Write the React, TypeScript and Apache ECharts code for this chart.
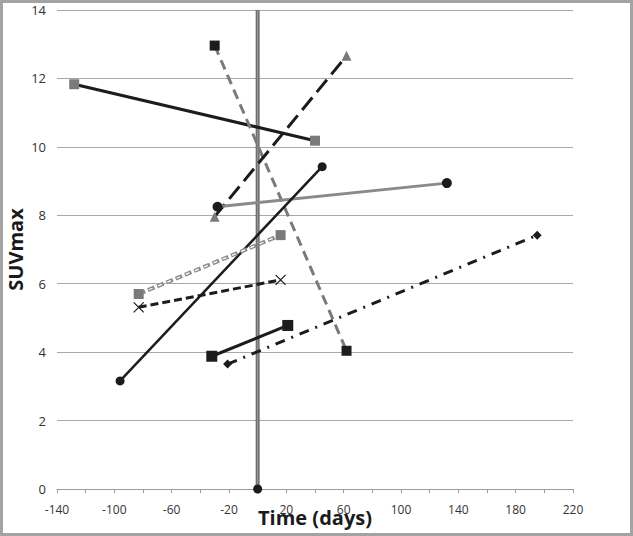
import React, { useEffect, useRef } from "react";
import * as echarts from "echarts";

// Each subject: [days, SUVmax] pairs (before / after)
const s1X = [-128, 40];
const s1Y = [11.83, 10.18];
const s2X = [-30, 62];
const s2Y = [12.96, 4.04];
const s3X = [-30, 62];
const s3Y = [7.96, 12.66];
const s4X = [-28, 132];
const s4Y = [8.25, 8.94];
const s5X = [-96, 45];
const s5Y = [3.16, 9.42];
const s6X = [-83, 16];
const s6Y = [5.7, 7.42];
const s7X = [-83, 16];
const s7Y = [5.31, 6.11];
const s8X = [-32, 21];
const s8Y = [3.88, 4.78];
const s9X = [-21, 195];
const s9Y = [3.65, 7.42];
const refX = [0, 0];
const refY = [0, 14];

const BLACK = "#1c1c1c";
const GRAY = "#7a7a7a";

const pts = (xs: number[], ys: number[]) => xs.map((x, i) => [x, ys[i]]);

const X_SYMBOL = "path://M0,0L10,10M10,0L0,10";

export default function App() {
  const ref = useRef<HTMLDivElement>(null);
  useEffect(() => {
    document.body.style.margin = "0";
    const chart = echarts.init(ref.current!, undefined, { renderer: "svg" });
    const fontFamily = "'Liberation Sans Narrow', 'Open Sans', sans-serif";
    const line = (
      name: string,
      xs: number[],
      ys: number[],
      lineStyle: any,
      symbol: string,
      symbolSize: number,
      itemStyle: any,
      z = 2
    ) => ({
      name,
      type: "line",
      data: pts(xs, ys),
      lineStyle,
      symbol,
      symbolSize,
      itemStyle,
      z,
      silent: true,
    });
    chart.setOption({
      animation: false,
      backgroundColor: "#ffffff",
      grid: { left: 57, top: 10, right: 60, bottom: 47, containLabel: false, outerBoundsMode: "none" },
      graphic: [
        {
          type: "rect",
          shape: { x: 1.5, y: 1.5, width: 630, height: 533 },
          style: { fill: "none", stroke: "#a3a3a3", lineWidth: 3 },
          z: 100,
        },
      ],
      xAxis: {
        type: "value",
        min: -140,
        max: 220,
        interval: 20,
        name: "Time (days)",
        nameLocation: "middle",
        nameGap: 18,
        nameMoveOverlap: false,
        nameTextStyle: { fontFamily: "'Open Sans', sans-serif", fontWeight: "bold", fontSize: 20, color: "#1a1a1a" },
        axisLine: { show: true, onZero: false, lineStyle: { color: "#9a9a9a", width: 1 } },
        axisTick: { show: true, inside: false, length: 4, lineStyle: { color: "#9a9a9a" } },
        axisLabel: {
          fontFamily,
          fontSize: 12,
          color: "#333",
          margin: 14,
          formatter: (v: number) => (((v + 140) % 40 === 0) ? String(v) : ""),
        },
        splitLine: { show: false },
      },
      yAxis: {
        type: "value",
        min: 0,
        max: 14,
        interval: 2,
        name: "SUVmax",
        nameLocation: "middle",
        nameGap: 32,
        nameMoveOverlap: false,
        nameTextStyle: { fontFamily: "'Open Sans', sans-serif", fontWeight: "bold", fontSize: 20, color: "#1a1a1a" },
        axisLine: { show: true, lineStyle: { color: "#9a9a9a", width: 1 } },
        axisTick: { show: true, length: 4, lineStyle: { color: "#9a9a9a" } },
        axisLabel: { fontFamily, fontSize: 13, color: "#333", margin: 11 },
        splitLine: { show: true, lineStyle: { color: "#a8a8a8", width: 1 } },
      },
      series: [
        // reference vertical line at day 0
        {
          type: "line",
          data: [
            { value: [refX[0], refY[0]], symbol: "circle", symbolSize: 9 },
            { value: [refX[1], refY[1]], symbol: "none" },
          ],
          lineStyle: { color: "#707070", width: 4 },
          itemStyle: { color: BLACK },
          z: 1,
          silent: true,
        },
        {
          type: "line",
          data: pts(refX, refY),
          symbol: "none",
          lineStyle: { color: "#9a9a9a", width: 1 },
          z: 1,
          silent: true,
        },
        line("s1", s1X, s1Y, { color: BLACK, width: 3 }, "rect", 10, { color: GRAY }),
        line("s2", s2X, s2Y, { color: GRAY, width: 3, type: [10, 6] }, "rect", 10, { color: BLACK }),
        line("s3", s3X, s3Y, { color: BLACK, width: 3, type: [16, 7] }, "triangle", 10, { color: GRAY }),
        line("s4", s4X, s4Y, { color: "#8a8a8a", width: 3 }, "circle", 10, { color: BLACK }),
        line("s5", s5X, s5Y, { color: BLACK, width: 2.5 }, "circle", 9, { color: BLACK }),
        line("s6", s6X, s6Y, { color: "#8a8a8a", width: 4, type: [7, 3] }, "rect", 10, { color: GRAY }),
        {
          type: "line",
          data: pts(s6X, s6Y),
          symbol: "none",
          lineStyle: { color: "#ffffff", width: 1.3, type: [4, 6], dashOffset: -1.5 },
          z: 2,
          silent: true,
        },
        line(
          "s7",
          s7X,
          s7Y,
          { color: BLACK, width: 3, type: [8, 4] },
          X_SYMBOL,
          10,
          { color: "transparent", borderColor: BLACK, borderWidth: 1.2 }
        ),
        line("s8", s8X, s8Y, { color: BLACK, width: 3 }, "rect", 11, { color: BLACK }),
        line("s9", s9X, s9Y, { color: BLACK, width: 3, type: [10, 7, 2, 7] }, "diamond", 9, { color: BLACK }),
      ],
    });
    return () => chart.dispose();
  }, []);
  return <div ref={ref} style={{ width: 633, height: 536 }} />;
}
